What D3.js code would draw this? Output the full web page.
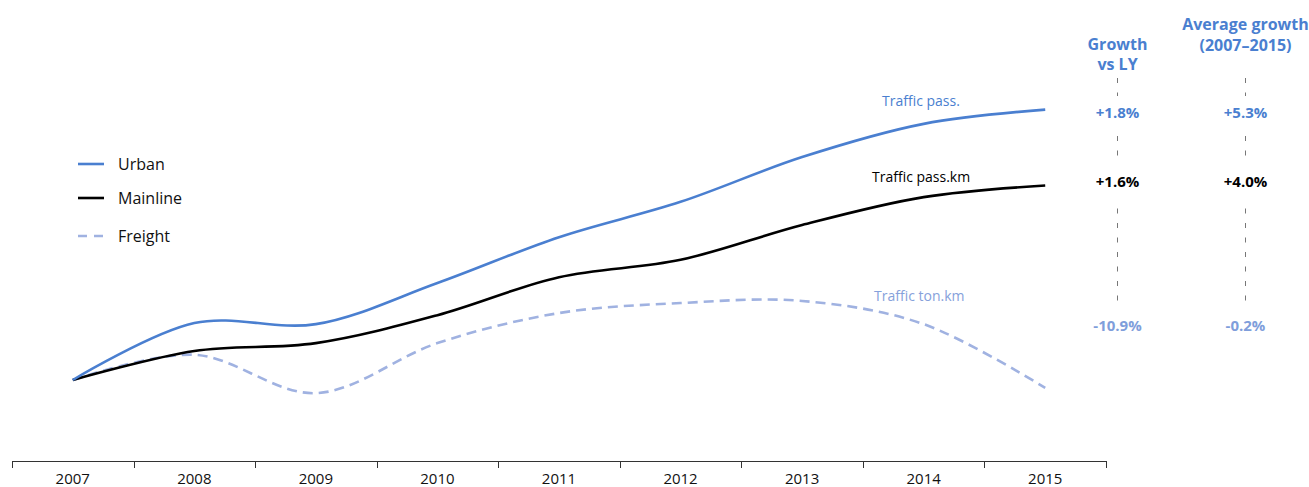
<!DOCTYPE html>
<html>
<head>
<meta charset="utf-8">
<script src="https://cdn.jsdelivr.net/npm/d3@7"></script>
<style>
  html, body { margin: 0; padding: 0; background: #fff; }
  svg { display: block; font-family: "Open Sans", "Noto Sans", sans-serif; }
</style>
</head>
<body>
<svg id="chart" width="1309" height="487"></svg>
<script>
// Traffic indices, 2007 = 100
const years = ["2007", "2008", "2009", "2010", "2011", "2012", "2013", "2014", "2015"];
const urban    = [100, 110.8, 110.6, 118.4, 127.1, 133.8, 142.3, 148.6, 151.3];
const mainline = [100, 105.5, 107.0, 112.3, 119.5, 122.8, 129.4, 134.7, 136.9];
const freight  = [100, 104.8,  97.5, 107.0, 112.7, 114.6, 115.0, 110.6,  98.5];

const seriesNames = ["Urban", "Mainline", "Freight"];
const lineLabels = ["Traffic pass.", "Traffic pass.km", "Traffic ton.km"];
const growthLY = ["+1.8%", "+1.6%", "-10.9%"];
const growthAvg = ["+5.3%", "+4.0%", "-0.2%"];

const colors = { Urban: "#4a7fd0", Mainline: "#000000", Freight: "#a0b2e1" };
const textColors = { Urban: "#4a7fd0", Mainline: "#000000", Freight: "#86a1db" };
const valueColors = { Urban: "#4a7fd0", Mainline: "#000000", Freight: "#7f9edb" };

const svg = d3.select("#chart");

const x = d3.scaleBand().domain(years).range([12, 1106]).padding(0);
const y = d3.scaleLinear().domain([84.63, 172.1]).range([461, 0]);
const cx = d => x(d) + x.bandwidth() / 2;

// x axis: baseline with ticks at the year boundaries
const axisY = 461;
const bounds = years.map(d => x(d)).concat([x.range()[1]]);
const axis = svg.append("g").attr("class", "x-axis");
axis.append("line")
  .attr("x1", x.range()[0]).attr("x2", x.range()[1])
  .attr("y1", axisY + 0.5).attr("y2", axisY + 0.5)
  .attr("stroke", "#333").attr("stroke-width", 1);
axis.selectAll("line.tick").data(bounds).join("line")
  .attr("class", "tick")
  .attr("x1", d => Math.round(d) + 0.5).attr("x2", d => Math.round(d) + 0.5)
  .attr("y1", axisY).attr("y2", axisY + 7)
  .attr("stroke", "#333").attr("stroke-width", 1);
axis.selectAll("text").data(years).join("text")
  .attr("x", d => cx(d)).attr("y", 484)
  .attr("text-anchor", "middle")
  .attr("font-size", 15).attr("fill", "#111")
  .text(d => d);

// series lines
const data = { Urban: urban, Mainline: mainline, Freight: freight };
const line = d3.line()
  .x((d, i) => cx(years[i]))
  .y(d => y(d))
  .curve(d3.curveCatmullRom.alpha(0.5));

// freight first so the solid lines sit on top
["Freight", "Mainline", "Urban"].forEach(name => {
  svg.append("path")
    .datum(data[name])
    .attr("d", line)
    .attr("fill", "none")
    .attr("stroke", colors[name])
    .attr("stroke-width", 2.6)
    .attr("stroke-linecap", "butt")
    .attr("stroke-dasharray", name === "Freight" ? "10,6" : null);
});

// line annotations
const labelPos = [
  { x: 882, y: 106 },
  { x: 872, y: 182 },
  { x: 874, y: 301 }
];
seriesNames.forEach((name, i) => {
  svg.append("text")
    .attr("x", labelPos[i].x).attr("y", labelPos[i].y)
    .attr("font-size", 14)
    .attr("fill", textColors[name])
    .text(lineLabels[i]);
});

// legend
const legend = svg.append("g").attr("class", "legend");
const legendY = [164, 198, 236];
seriesNames.forEach((name, i) => {
  legend.append("line")
    .attr("x1", 78).attr("x2", 104)
    .attr("y1", legendY[i]).attr("y2", legendY[i])
    .attr("stroke", colors[name]).attr("stroke-width", 2.6)
    .attr("stroke-dasharray", name === "Freight" ? "9,7" : null);
  legend.append("text")
    .attr("x", 118).attr("y", legendY[i] + 6)
    .attr("font-size", 16).attr("fill", "#111")
    .text(name);
});

// growth columns
const valueY = [118, 187, 331];
const columns = [
  { cx: 1117.5, title: ["Growth", "vs LY"], titleY: [50, 70], values: growthLY },
  { cx: 1245.5, title: ["Average growth", "(2007\u20132015)"], titleY: [30, 51], values: growthAvg }
];
columns.forEach(col => {
  const g = svg.append("g");
  g.append("line")
    .attr("x1", col.cx).attr("x2", col.cx)
    .attr("y1", 78).attr("y2", 308)
    .attr("stroke", "#777").attr("stroke-width", 1)
    .attr("stroke-dasharray", "5,9.5");
  col.title.forEach((t, i) => {
    g.append("text")
      .attr("x", col.cx).attr("y", col.titleY[i])
      .attr("text-anchor", "middle")
      .attr("font-size", 16).attr("font-weight", 700)
      .attr("fill", "#4a7fd0")
      .text(t);
  });
  col.values.forEach((v, i) => {
    g.append("rect")
      .attr("x", col.cx - 32).attr("y", valueY[i] - 22)
      .attr("width", 64).attr("height", 34)
      .attr("fill", "#fff");
    g.append("text")
      .attr("x", col.cx).attr("y", valueY[i])
      .attr("text-anchor", "middle")
      .attr("font-size", 15).attr("font-weight", 700)
      .attr("fill", valueColors[seriesNames[i]])
      .text(v);
  });
});
</script>
</body>
</html>
